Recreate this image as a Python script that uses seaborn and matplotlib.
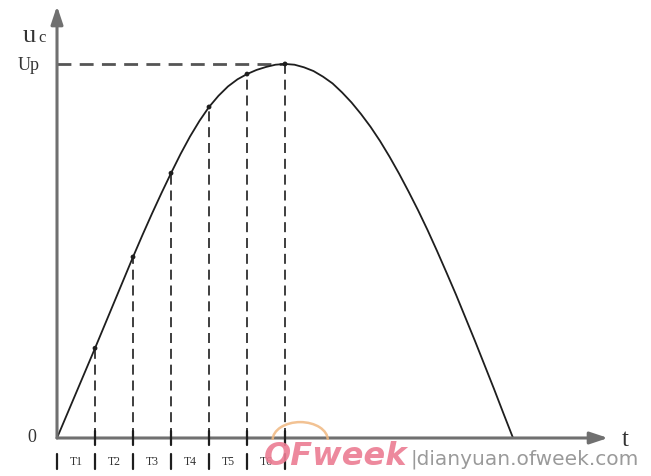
import matplotlib
matplotlib.use("Agg")
import matplotlib.pyplot as plt
from matplotlib.patches import Arc
import seaborn as sns
import pandas as pd

# Capacitor voltage u_c over time, in units of one sampling interval T (x) and of Up (y)
t_curve = [0, 0.25, 0.5, 0.75, 1, 1.25, 1.5, 1.75, 2, 2.25, 2.5, 2.75, 3,
           3.25, 3.5, 3.75, 4, 4.25, 4.5, 4.75, 5, 5.25, 5.5, 5.75, 6,
           6.25, 6.5, 6.75, 7, 7.25, 7.5, 7.75, 8, 8.25, 8.5, 8.75, 9,
           9.25, 9.5, 9.75, 10, 10.25, 10.5, 10.75, 11, 11.25, 11.5, 11.75, 12]
uc_curve = [0.000, 0.060, 0.120, 0.180, 0.240, 0.301, 0.362, 0.423, 0.484,
            0.543, 0.600, 0.655, 0.708, 0.759, 0.806, 0.848, 0.885,
            0.915, 0.940, 0.959, 0.973, 0.984, 0.992, 0.998, 1.000,
            0.998, 0.991, 0.981, 0.966, 0.948, 0.924, 0.897, 0.866,
            0.832, 0.794, 0.752, 0.707, 0.659, 0.609, 0.556, 0.500,
            0.442, 0.383, 0.321, 0.259, 0.195, 0.131, 0.065, 0.000]

# Sampled points at the end of each interval T1..T6
t_samples = [1, 2, 3, 4, 5, 6]
uc_samples = [0.24, 0.484, 0.708, 0.885, 0.973, 1.0]
interval_labels = ["T1", "T2", "T3", "T4", "T5", "T6"]

curve = pd.DataFrame({"t": t_curve, "uc": uc_curve})
samples = pd.DataFrame({"t": t_samples, "uc": uc_samples})

sns.set_theme(style="white")
plt.rcParams["font.family"] = ["Liberation Serif", "DejaVu Serif"]

fig = plt.figure(figsize=(6.51, 4.76), dpi=100)
ax = fig.add_axes([0, 0, 1, 1])
ax.set_xlim(-1.5, 15.63)
ax.set_ylim(-0.1016, 1.171)
ax.axis("off")

axis_grey = "#707070"
ink = "#1e1e1e"

# vertical dashed drops from each sample to the time axis
for t, u in zip(t_samples, uc_samples):
    ax.plot([t, t], [0, u], color=ink, lw=1.2, linestyle=(0, (6, 3.5)), zorder=2)

# dashed level line for the peak voltage Up
ax.plot([0, t_samples[-1]], [uc_samples[-1]] * 2, color="#555555", lw=2.0,
        linestyle=(0, (5, 3)), zorder=2)

# curve and sample dots
sns.lineplot(data=curve, x="t", y="uc", ax=ax, color=ink, lw=1.3, zorder=3)
sns.scatterplot(data=samples, x="t", y="uc", ax=ax, color=ink, s=12,
                edgecolor="none", zorder=4)

# axes with arrow heads
ax.annotate("", xy=(14.5, 0), xytext=(0, 0),
            arrowprops=dict(arrowstyle="-|>,head_length=0.9,head_width=0.3",
                            color=axis_grey, lw=2.2, shrinkA=0, shrinkB=0,
                            facecolor="black"))
ax.annotate("", xy=(0, 1.155), xytext=(0, 0),
            arrowprops=dict(arrowstyle="-|>,head_length=0.9,head_width=0.3",
                            color=axis_grey, lw=2.2, shrinkA=0, shrinkB=0,
                            facecolor="black"))

# small ticks on the time axis
for t in t_samples:
    ax.plot([t, t], [-0.018, 0.018], color=ink, lw=1.6, zorder=5)

# interval labels with separators
sep_y = [-0.042, -0.084]
for t in [0] + t_samples:
    ax.plot([t, t], sep_y, color=ink, lw=1.6, zorder=5)
for t, lab in zip(t_samples, interval_labels):
    ax.text(t - 0.5, -0.063, lab, ha="center", va="center", fontsize=8.5,
            color="#333333")

# axis annotations
ax.text(-0.55, 0.0, "0", ha="right", va="center", fontsize=13, color="#333333")
ax.text(-0.45, 0.995, "Up", ha="right", va="center", fontsize=13, color="#333333")
ax.text(-0.55, 1.075, "u", ha="right", va="center", fontsize=19, color="#333333")
ax.text(-0.5, 1.07, "c", ha="left", va="center", fontsize=12, color="#333333")
ax.text(14.95, -0.005, "t", ha="center", va="center", fontsize=18, color="#333333")

# site mark along the bottom edge
ax.add_patch(Arc((6.4, -0.005), 1.45, 0.095, theta1=0, theta2=180,
                 color="#f0b880", lw=1.8, alpha=0.85, zorder=6))
ax.text(5.45, -0.05, "OFweek", ha="left", va="center", fontsize=23,
        fontweight="bold", fontstyle="italic", family="DejaVu Sans",
        color="#ec7c93", alpha=0.9, zorder=6)
ax.text(9.3, -0.058, "|dianyuan.ofweek.com", ha="left", va="center",
        fontsize=14.5, family="DejaVu Sans", color="#9a9a9a", zorder=6)

fig.savefig("out.png", dpi=100)
